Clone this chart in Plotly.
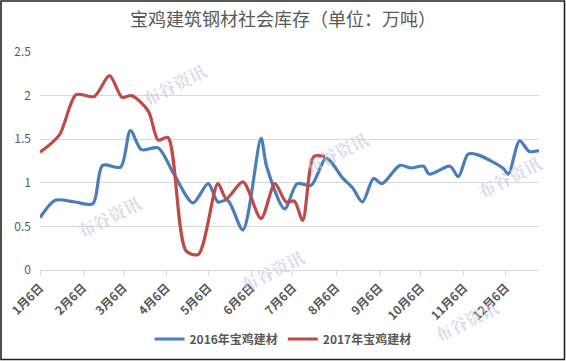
import plotly.graph_objects as go

title_text = "宝鸡建筑钢材社会库存（单位：万吨）"
series_2016_name = "2016年宝鸡建材"
series_2017_name = "2017年宝鸡建材"

dates_2016 = ["2016-01-06", "2016-01-17", "2016-01-31", "2016-02-13", "2016-02-20",
              "2016-03-04", "2016-03-11", "2016-03-19", "2016-03-31", "2016-04-11",
              "2016-04-25", "2016-05-06", "2016-05-13", "2016-05-20", "2016-05-31",
              "2016-06-13", "2016-06-17", "2016-06-30", "2016-07-09", "2016-07-19",
              "2016-07-30", "2016-08-11", "2016-08-18", "2016-08-25", "2016-09-02",
              "2016-09-08", "2016-09-21", "2016-09-29", "2016-10-08", "2016-10-12",
              "2016-10-27", "2016-11-02", "2016-11-09", "2016-11-16", "2016-12-04",
              "2016-12-08", "2016-12-16", "2016-12-23", "2016-12-30"]
values_2016 = [0.60, 0.80, 0.78, 0.76, 1.20,
               1.18, 1.60, 1.38, 1.40, 1.11,
               0.77, 0.99, 0.78, 0.80, 0.46,
               1.51, 1.19, 0.70, 0.99, 0.97,
               1.28, 1.05, 0.94, 0.78, 1.05,
               0.99, 1.20, 1.17, 1.19, 1.10,
               1.19, 1.07, 1.33, 1.32, 1.17,
               1.10, 1.48, 1.36, 1.37]

dates_2017 = ["2016-01-06", "2016-01-20", "2016-02-01", "2016-02-14", "2016-02-25",
              "2016-03-05", "2016-03-12", "2016-03-24", "2016-03-31", "2016-04-07",
              "2016-04-20", "2016-04-29", "2016-05-13", "2016-05-19", "2016-05-31",
              "2016-06-13", "2016-06-23", "2016-07-01", "2016-07-07", "2016-07-13",
              "2016-07-21", "2016-07-29"]
values_2017 = [1.35, 1.55, 2.01, 1.99, 2.23,
               1.98, 2.00, 1.82, 1.49, 1.52,
               0.22, 0.18, 0.99, 0.82, 1.01,
               0.59, 0.99, 0.78, 0.79, 0.57,
               1.30, 1.30]

tick_dates = ["2016-01-06", "2016-02-06", "2016-03-06", "2016-04-06", "2016-05-06",
              "2016-06-06", "2016-07-06", "2016-08-06", "2016-09-06", "2016-10-06",
              "2016-11-06", "2016-12-06"]
tick_labels = ["1月6日", "2月6日", "3月6日", "4月6日", "5月6日", "6月6日",
               "7月6日", "8月6日", "9月6日", "10月6日", "11月6日", "12月6日"]

watermark_text = "布谷资讯"

W, H = 566, 361
ML, MR, MT, MB = 40, 27, 52, 91
PW, PH = W - ML - MR, H - MT - MB


def px(x):
    return (x - ML) / PW


def py(y):
    return (H - MB - y) / PH


FONT = "Noto Sans CJK SC"
GREY = "#595959"

fig = go.Figure()
fig.add_trace(go.Scatter(x=dates_2016, y=values_2016, mode="lines", name=series_2016_name,
                         line=dict(color="#4A7EBB", width=3.2, shape="spline", smoothing=0.8)))
fig.add_trace(go.Scatter(x=dates_2017, y=values_2017, mode="lines", name=series_2017_name,
                         line=dict(color="#BE4B48", width=3.2, shape="spline", smoothing=0.8)))

# watermarks
wm = [(135, 55), (70, 246), (336, 123), (548, 176), (272, 300), (505, 350)]
for (x, y) in wm:
    fig.add_annotation(x=px(x), y=py(y), xref="paper", yref="paper", text=watermark_text,
                       showarrow=False, textangle=-27,
                       font=dict(family="Noto Serif CJK SC, DejaVu Serif, " + FONT, size=17,
                                 color="rgba(200,196,222,0.65)", weight="bold"))

# border
fig.add_shape(type="rect", xref="paper", yref="paper",
              x0=px(1), x1=px(564.5), y0=py(359.5), y1=py(1), layer="above",
              line=dict(color="#222222", width=1.6))

fig.update_layout(
    width=W, height=H,
    margin=dict(l=ML, r=MR, t=MT, b=MB, autoexpand=False),
    paper_bgcolor="white", plot_bgcolor="white",
    title=dict(text=title_text, x=0.5, xanchor="center", y=1 - 20 / H, yanchor="middle",
               yref="container", automargin=False,
               font=dict(family=FONT, size=18, color=GREY)),
    showlegend=True,
    legend=dict(orientation="h", x=px(283), xanchor="center", y=py(339), yanchor="middle",
                font=dict(family=FONT, size=12, color=GREY, weight="bold"),
                bgcolor="rgba(0,0,0,0)", itemwidth=30),
    xaxis=dict(type="date", range=["2016-01-06", "2016-12-30"], tickmode="array",
               tickvals=tick_dates, ticktext=tick_labels, tickangle=-45, automargin=False,
               tickfont=dict(family=FONT, size=12, color=GREY, weight="bold"),
               showgrid=False, showline=True, linecolor="#D9D9D9", linewidth=1,
               ticks="outside", tickcolor="#D9D9D9", ticklen=5, zeroline=False),
    yaxis=dict(range=[0, 2.5], dtick=0.5, tick0=0, showgrid=True, gridcolor="#D9D9D9",
               gridwidth=1, zeroline=False, showline=False, ticks="", automargin=False,
               ticklabelstandoff=8,
               tickfont=dict(family=FONT, size=12, color=GREY)),
)

fig.write_html("out.html", config={"displayModeBar": False},
               post_script="document.body.style.margin='0';document.body.style.overflow='hidden';")
